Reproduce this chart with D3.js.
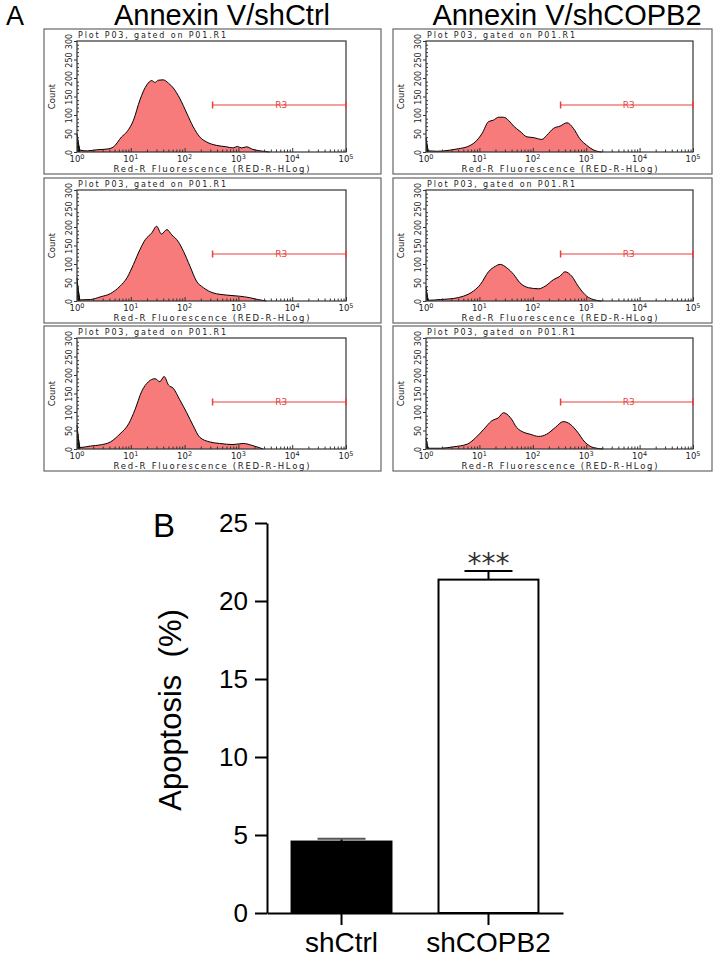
<!DOCTYPE html>
<html>
<head>
<meta charset="utf-8">
<script src="https://cdn.jsdelivr.net/npm/d3@7"></script>
<style>
  body { margin: 0; background: #fff; }
  svg { display: block; }
</style>
</head>
<body>
<svg id="fig" width="718" height="959"></svg>
<script>
// histograms: [log10 fluorescence, count]
var ctrl1 = [[0,50],[0.06,5],[0.19,3],[0.37,6],[0.56,8],[0.68,14],[0.83,41],[0.93,55],[1.05,86],[1.17,141],[1.30,182],[1.39,193],[1.45,188],[1.51,194],[1.60,195],[1.70,186],[1.79,173],[1.91,145],[2.04,105],[2.16,68],[2.28,41],[2.41,27],[2.59,18],[2.78,14],[2.90,11],[2.98,15],[3.06,11],[3.15,14],[3.27,7],[3.46,2],[3.58,0]];
var ctrl2 = [[0,63],[0.06,3],[0.25,4],[0.43,11],[0.62,20],[0.80,40],[0.93,63],[1.05,99],[1.17,139],[1.27,166],[1.39,184],[1.48,202],[1.57,181],[1.67,193],[1.76,179],[1.88,161],[1.98,134],[2.10,94],[2.22,54],[2.35,36],[2.53,22],[2.78,16],[3.02,13],[3.21,9],[3.36,4],[3.52,0]];
var ctrl3 = [[0,65],[0.06,4],[0.25,8],[0.43,11],[0.62,19],[0.80,41],[0.96,68],[1.08,107],[1.20,155],[1.33,182],[1.45,190],[1.54,182],[1.62,196],[1.70,173],[1.79,164],[1.91,133],[2.04,98],[2.16,63],[2.28,32],[2.47,19],[2.65,15],[2.90,12],[3.09,15],[3.27,9],[3.46,0]];
var copb1 = [[0,39],[0.05,3],[0.21,2],[0.45,5],[0.61,9],[0.77,14],[0.92,27],[1.05,50],[1.17,82],[1.26,86],[1.36,94],[1.45,94],[1.55,85],[1.64,70],[1.76,56],[1.89,41],[2.01,39],[2.17,34],[2.26,45],[2.39,64],[2.51,70],[2.64,79],[2.76,64],[2.88,36],[3.01,18],[3.13,6],[3.29,0]];
var copb2 = [[0,38],[0.05,2],[0.27,4],[0.52,7],[0.70,13],[0.89,27],[1.02,45],[1.17,79],[1.30,94],[1.39,99],[1.51,90],[1.64,72],[1.76,49],[1.92,36],[2.11,33],[2.23,40],[2.39,58],[2.51,67],[2.60,79],[2.73,67],[2.85,40],[3.01,13],[3.13,4],[3.29,0]];
var copb3 = [[0,29],[0.05,2],[0.27,2],[0.52,6],[0.77,13],[0.92,29],[1.08,53],[1.23,76],[1.36,85],[1.45,98],[1.58,85],[1.70,58],[1.83,45],[1.95,40],[2.11,34],[2.26,40],[2.42,58],[2.57,74],[2.70,67],[2.82,49],[2.98,18],[3.13,4],[3.32,0]];

var columnTitles = ["Annexin V/shCtrl", "Annexin V/shCOPB2"];
var countTicks = [0, 50, 100, 150, 200, 250, 300];
var decades = [0, 1, 2, 3, 4, 5];
var gateR3 = [2.52, 5];
var gateCount = 127;

// panel B
var groups = ["shCtrl", "shCOPB2"];
var apoptosis = [4.58, 21.37];
var apoptosisErr = [0.18, 0.55];
var apoTicks = [0, 5, 10, 15, 20, 25];

var svg = d3.select("#fig");
var sans = "'Liberation Sans', Arial, sans-serif";
var small = "'DejaVu Sans', Verdana, sans-serif";

var columns = [
  { ox0: 44, ox1: 381, px0: 77, px1: 346, data: [ctrl1, ctrl2, ctrl3], cx: 222 },
  { ox0: 393, ox1: 712, px0: 426, px1: 693, data: [copb1, copb2, copb3], cx: 567 }
];
var rowTops = [29, 178, 326];

svg.append("text").attr("x", 6).attr("y", 25)
  .style("font-family", sans).style("font-size", "27px").text("A");

columns.forEach(function (col, ci) {
  svg.append("text").attr("x", col.cx).attr("y", 25)
    .attr("text-anchor", "middle")
    .style("font-family", sans).style("font-size", "29px")
    .text(columnTitles[ci]);
  col.data.forEach(function (hist, ri) {
    drawHist(hist, col, rowTops[ri]);
  });
});

function drawHist(hist, col, top) {
  var pTop = top + 12, pBot = top + 123;
  var g = svg.append("g");

  g.append("rect")
    .attr("x", col.ox0).attr("y", top)
    .attr("width", col.ox1 - col.ox0).attr("height", 145)
    .attr("fill", "none").attr("stroke", "#666").attr("stroke-width", 1.2);

  var x = d3.scaleLog().domain([1, 1e5]).range([col.px0, col.px1]);
  var y = d3.scaleLinear().domain([0, 300]).range([pBot, pTop]);

  var area = d3.area()
    .x(function (d) { return x(Math.pow(10, d[0])); })
    .y0(y(0))
    .y1(function (d) { return y(d[1]); })
    .curve(d3.curveMonotoneX);
  var line = d3.line()
    .x(function (d) { return x(Math.pow(10, d[0])); })
    .y(function (d) { return y(d[1]); })
    .curve(d3.curveMonotoneX);

  g.append("path").datum(hist).attr("d", area).attr("fill", "#f77b7b");
  g.append("path").datum(hist.slice(0, 2)).attr("d", area).attr("fill", "#111");
  g.append("path").datum(hist).attr("d", line)
    .attr("fill", "none").attr("stroke", "#000").attr("stroke-width", 1);

  // frame of the plot
  g.append("rect")
    .attr("x", col.px0).attr("y", pTop)
    .attr("width", col.px1 - col.px0).attr("height", pBot - pTop)
    .attr("fill", "none").attr("stroke", "#333").attr("stroke-width", 1.2);

  // x axis
  var minors = [];
  for (var k = 0; k < 5; k++) {
    for (var m = 2; m < 10; m++) minors.push(m * Math.pow(10, k));
  }
  var xa = g.append("g").attr("transform", "translate(0," + pBot + ")")
    .call(d3.axisBottom(x).tickValues(decades.map(function (d) { return Math.pow(10, d); }))
      .tickSize(-4).tickSizeOuter(0).tickFormat(""));
  var xm = g.append("g").attr("transform", "translate(0," + pBot + ")")
    .call(d3.axisBottom(x).tickValues(minors).tickSize(-2.5).tickSizeOuter(0).tickFormat(""));
  [xa, xm].forEach(function (a) {
    a.select(".domain").remove();
    a.selectAll("line").attr("stroke", "#333");
  });
  decades.forEach(function (d) {
    var t = g.append("text")
      .attr("x", x(Math.pow(10, d))).attr("y", pBot + 10)
      .attr("text-anchor", "middle")
      .style("font-family", small).style("font-size", "8.5px").attr("fill", "#222");
    t.append("tspan").text("10");
    t.append("tspan").attr("dy", -3.5).style("font-size", "6.5px").text(d);
  });
  g.append("text")
    .attr("x", (col.px0 + col.px1) / 2).attr("y", pBot + 20)
    .attr("text-anchor", "middle")
    .attr("textLength", 196).attr("lengthAdjust", "spacing")
    .style("font-family", small).style("font-size", "8.5px").attr("fill", "#222")
    .text("Red-R Fluorescence (RED-R-HLog)");

  // y axis
  var ya = g.append("g").attr("transform", "translate(" + col.px0 + ",0)")
    .call(d3.axisLeft(y).tickValues(countTicks).tickSize(3).tickSizeOuter(0));
  ya.select(".domain").remove();
  ya.selectAll("line").attr("stroke", "#333");
  ya.selectAll("text")
    .attr("x", null).attr("dy", null).attr("y", null)
    .attr("transform", "translate(-5,0) rotate(-90)")
    .attr("text-anchor", "middle")
    .style("font-family", small).style("font-size", "8px").attr("fill", "#222");
  var yMinor = d3.range(10, 300, 10).filter(function (v) { return v % 50 !== 0; });
  var ym = g.append("g").attr("transform", "translate(" + col.px0 + ",0)")
    .call(d3.axisLeft(y).tickValues(yMinor).tickSize(-2).tickSizeOuter(0).tickFormat(""));
  ym.select(".domain").remove();
  ym.selectAll("line").attr("stroke", "#333");

  g.append("text")
    .attr("transform", "translate(" + (col.px0 - 22) + "," + ((pTop + pBot) / 2) + ") rotate(-90)")
    .attr("text-anchor", "middle")
    .style("font-family", small).style("font-size", "8.5px").attr("fill", "#222")
    .text("Count");

  g.append("text")
    .attr("x", col.px0 + 1).attr("y", pTop - 3)
    .attr("textLength", 148).attr("lengthAdjust", "spacing")
    .style("font-family", small).style("font-size", "8px").attr("fill", "#222")
    .text("Plot P03, gated on P01.R1");

  // R3 gate
  var gx0 = x(Math.pow(10, gateR3[0])), gx1 = x(Math.pow(10, gateR3[1])), gy = y(gateCount);
  var red = "#e8413c";
  g.append("line").attr("x1", gx0).attr("x2", gx1).attr("y1", gy).attr("y2", gy)
    .attr("stroke", red).attr("stroke-width", 1.2);
  [gx0, gx1].forEach(function (gx) {
    g.append("line").attr("x1", gx).attr("x2", gx).attr("y1", gy - 3.5).attr("y2", gy + 3.5)
      .attr("stroke", red).attr("stroke-width", 1.5);
  });
  g.append("text")
    .attr("x", x(Math.pow(10, (gateR3[0] + gateR3[1]) / 2)) + 2).attr("y", gy + 3)
    .attr("text-anchor", "middle")
    .style("font-family", small).style("font-size", "9px").attr("fill", red)
    .text("R3");
}

// ---- panel B ----
var yB = d3.scaleLinear().domain([0, 25]).range([913, 523]);
var xB = d3.scaleBand().domain(groups).range([267, 563])
  .paddingInner(0.32).paddingOuter(0.167);

svg.append("text").attr("x", 153).attr("y", 537)
  .style("font-family", sans).style("font-size", "33px").text("B");

var gB = svg.append("g");

gB.selectAll(".bar")
  .data(groups)
  .enter().append("rect")
  .attr("class", "bar")
  .attr("x", function (d) { return xB(d); })
  .attr("y", function (d, i) { return yB(apoptosis[i]); })
  .attr("width", xB.bandwidth())
  .attr("height", function (d, i) { return yB(0) - yB(apoptosis[i]); })
  .attr("fill", function (d, i) { return i === 0 ? "#000" : "#fff"; })
  .attr("stroke", "#000").attr("stroke-width", 2);

groups.forEach(function (d, i) {
  var cx = xB(d) + xB.bandwidth() / 2;
  var yTop = yB(apoptosis[i] + apoptosisErr[i]);
  gB.append("line").attr("x1", cx).attr("x2", cx)
    .attr("y1", yB(apoptosis[i])).attr("y2", yTop)
    .attr("stroke", "#000").attr("stroke-width", 2);
  gB.append("line").attr("x1", cx - 24).attr("x2", cx + 24)
    .attr("y1", yTop).attr("y2", yTop)
    .attr("stroke", i === 0 ? "#555" : "#000").attr("stroke-width", 2);
  if (i === 1) {
    gB.append("text").attr("x", cx).attr("y", yTop + 2)
      .attr("text-anchor", "middle")
      .style("font-family", small).style("font-size", "28px").attr("fill", "#333")
      .text("***");
  }
});

var yAxB = gB.append("g").attr("transform", "translate(267,0)")
  .call(d3.axisLeft(yB).tickValues(apoTicks).tickSize(12).tickSizeOuter(0).tickPadding(7));
var xAxB = gB.append("g").attr("transform", "translate(0,913)")
  .call(d3.axisBottom(xB).tickSize(12).tickSizeOuter(0).tickPadding(7));
[yAxB, xAxB].forEach(function (a) {
  a.select(".domain").attr("stroke-width", 2);
  a.selectAll("line").attr("stroke-width", 2);
});
yAxB.selectAll("text").style("font-family", sans).style("font-size", "26px").attr("fill", "#000");
xAxB.selectAll("text").style("font-family", sans).style("font-size", "28px").attr("fill", "#000");

gB.append("text")
  .attr("transform", "translate(181,710) rotate(-90)")
  .attr("text-anchor", "middle")
  .style("font-family", sans).style("font-size", "31px")
  .style("white-space", "pre")
  .text("Apoptosis  (%)");
</script>
</body>
</html>
